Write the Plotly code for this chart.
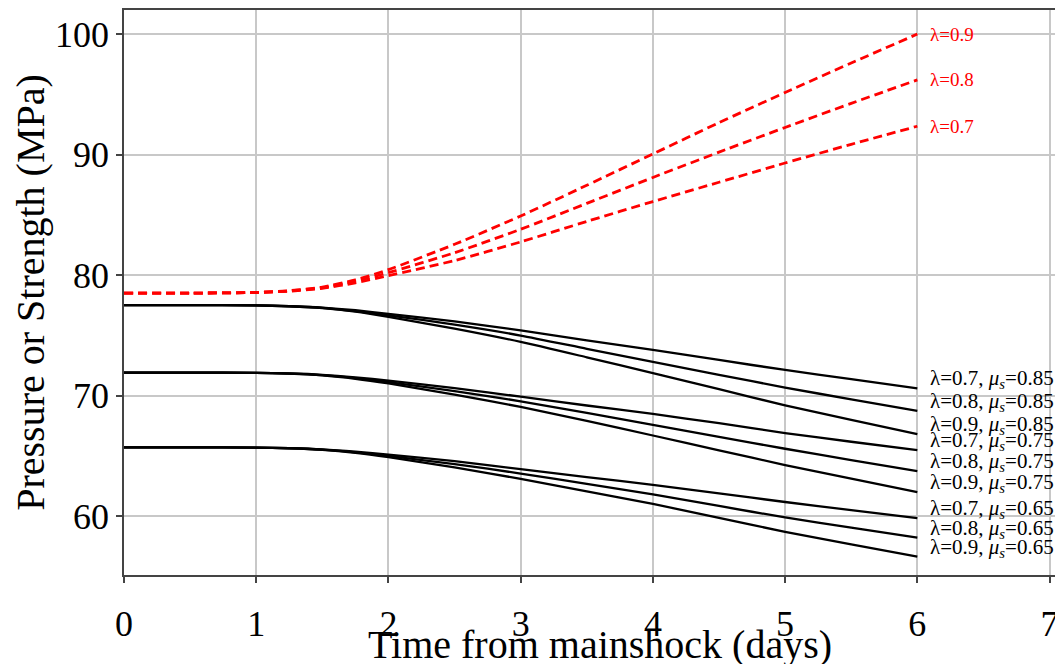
import plotly.graph_objects as go

# Time (days)
t = [0, 0.5, 1.0, 1.25, 1.5, 1.75, 2.0, 2.5, 3.0, 3.5, 4.0, 4.5, 5.0, 5.5, 6.0]

# Pore pressure (red dashed), by lambda
p_l09 = [78.5, 78.5, 78.55, 78.7, 79.0, 79.6, 80.45, 82.55, 84.9, 87.45, 90.05, 92.65, 95.15, 97.6, 100.0]
p_l08 = [78.5, 78.5, 78.55, 78.68, 78.95, 79.5, 80.2, 81.85, 83.8, 85.95, 88.1, 90.2, 92.25, 94.25, 96.2]
p_l07 = [78.5, 78.5, 78.55, 78.66, 78.9, 79.35, 79.95, 81.2, 82.75, 84.45, 86.1, 87.7, 89.3, 90.85, 92.35]

# Strength (black), mu_s = 0.85
s085_l07 = [77.5, 77.5, 77.48, 77.42, 77.3, 77.08, 76.78, 76.16, 75.4, 74.58, 73.78, 72.95, 72.12, 71.36, 70.6]
s085_l08 = [77.5, 77.5, 77.48, 77.41, 77.28, 77.0, 76.66, 75.88, 74.98, 73.88, 72.8, 71.72, 70.66, 69.68, 68.72]
s085_l09 = [77.5, 77.5, 77.48, 77.4, 77.25, 76.96, 76.53, 75.55, 74.45, 73.17, 71.86, 70.52, 69.18, 67.98, 66.8]
# mu_s = 0.75
s075_l07 = [71.9, 71.9, 71.88, 71.83, 71.72, 71.51, 71.23, 70.62, 69.9, 69.17, 68.47, 67.7, 66.88, 66.16, 65.46]
s075_l08 = [71.9, 71.9, 71.88, 71.82, 71.69, 71.44, 71.11, 70.37, 69.52, 68.55, 67.57, 66.57, 65.58, 64.64, 63.73]
s075_l09 = [71.9, 71.9, 71.88, 71.81, 71.67, 71.39, 71.0, 70.08, 69.05, 67.9, 66.68, 65.45, 64.23, 63.1, 61.98]
# mu_s = 0.65
s065_l07 = [65.7, 65.7, 65.68, 65.63, 65.53, 65.34, 65.09, 64.55, 63.89, 63.23, 62.58, 61.88, 61.16, 60.49, 59.83]
s065_l08 = [65.7, 65.7, 65.68, 65.62, 65.51, 65.28, 64.98, 64.31, 63.52, 62.66, 61.79, 60.83, 59.88, 59.04, 58.21]
s065_l09 = [65.7, 65.7, 65.68, 65.62, 65.49, 65.24, 64.88, 64.03, 63.08, 62.05, 61.0, 59.85, 58.68, 57.64, 56.63]

pressure_series = [("λ=0.9", p_l09), ("λ=0.8", p_l08), ("λ=0.7", p_l07)]
MU = "<i>μ</i><sub><i>s</i></sub>"
strength_series = [
    ("λ=0.7, " + MU + "=0.85", s085_l07),
    ("λ=0.8, " + MU + "=0.85", s085_l08),
    ("λ=0.9, " + MU + "=0.85", s085_l09),
    ("λ=0.7, " + MU + "=0.75", s075_l07),
    ("λ=0.8, " + MU + "=0.75", s075_l08),
    ("λ=0.9, " + MU + "=0.75", s075_l09),
    ("λ=0.7, " + MU + "=0.65", s065_l07),
    ("λ=0.8, " + MU + "=0.65", s065_l08),
    ("λ=0.9, " + MU + "=0.65", s065_l09),
]

x_ticks = [0, 1, 2, 3, 4, 5, 6, 7]
y_ticks = [60, 70, 80, 90, 100]
x_title = "Time from mainshock (days)"
y_title = "Pressure or Strength (MPa)"

FONT = "Liberation Serif, Times New Roman, serif"
AX = "#444444"

fig = go.Figure()
annotations = []

for name, ys in pressure_series:
    fig.add_trace(go.Scatter(x=t, y=ys, mode="lines", name=name,
                             line=dict(color="#ff0000", width=2.8, dash="9px,5px", shape="spline", smoothing=0.6),
                             showlegend=False))
    annotations.append(dict(x=6.1, y=ys[-1], text=name, showarrow=False, xanchor="left", yanchor="middle",
                            xshift=-3, font=dict(family=FONT, size=19, color="#ff0000")))

for name, ys in strength_series:
    fig.add_trace(go.Scatter(x=t, y=ys, mode="lines", name=name,
                             line=dict(color="#000000", width=2.3, shape="spline", smoothing=0.6),
                             showlegend=False))
    annotations.append(dict(x=6.1, y=ys[-1], text=name, showarrow=False, xanchor="left", yanchor="middle",
                            xshift=-3, yshift=9, font=dict(family=FONT, size=21, color="#000000")))

# x-axis title (placed as an annotation so it can run past the bottom edge, as in the original)
annotations.append(dict(x=0.5, y=0, xref="paper", yref="paper", text=x_title, showarrow=False,
                        xanchor="center", yanchor="top", yshift=-45,
                        font=dict(family=FONT, size=40, color="black")))

fig.update_layout(
    width=1072, height=700,
    margin=dict(l=116, r=4, t=2, b=133),
    paper_bgcolor="white", plot_bgcolor="white",
    font=dict(family=FONT, color="black"),
    annotations=annotations,
)
fig.update_xaxes(
    range=[0, 7.2], tickvals=x_ticks, ticktext=[str(v) for v in x_ticks],
    showgrid=True, gridcolor="#c8c8c8", gridwidth=1.5, zeroline=False,
    showline=True, linecolor=AX, linewidth=1.6, mirror=True,
    ticks="outside", ticklen=6, tickwidth=1.5, tickcolor=AX, ticklabelstandoff=10,
    tickfont=dict(family=FONT, size=36, color="black"),
    automargin=False,
)
fig.update_yaxes(
    range=[55.1, 102.0], tickvals=y_ticks, ticktext=[str(v) for v in y_ticks],
    showgrid=True, gridcolor="#c8c8c8", gridwidth=1.5, zeroline=False,
    showline=True, linecolor=AX, linewidth=1.6, mirror=False,
    ticks="outside", ticklen=6, tickwidth=1.5, tickcolor=AX,
    tickfont=dict(family=FONT, size=36, color="black"),
    title=dict(text=y_title, font=dict(family=FONT, size=40, color="black"), standoff=0),
    automargin=False,
)

fig.write_html("out.html")
